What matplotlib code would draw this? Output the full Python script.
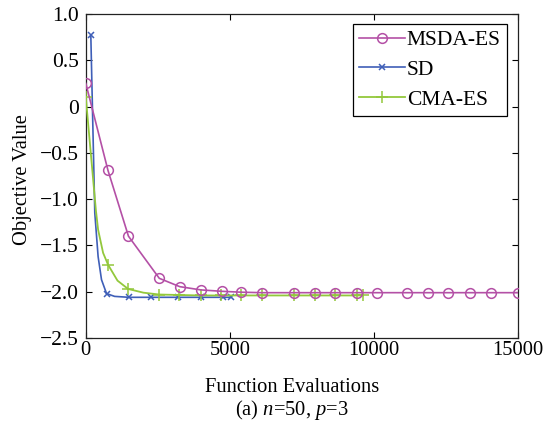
import matplotlib
matplotlib.use("Agg")
import matplotlib.pyplot as plt

plt.rcParams['font.family'] = ['Liberation Serif', 'DejaVu Serif']
plt.rcParams['mathtext.fontset'] = 'custom'
plt.rcParams['mathtext.it'] = 'Liberation Serif:italic'
plt.rcParams['mathtext.rm'] = 'Liberation Serif'

# values
msda_x = [0, 770, 1480, 2550, 3260, 3990, 4710, 5400, 6130, 7230, 7950,
          8650, 9400, 10090, 11150, 11860, 12580, 13330, 14050, 15000]
msda_y = [0.25, -0.69, -1.40, -1.855, -1.945, -1.98, -1.995, -2.005, -2.01,
          -2.01, -2.01, -2.01, -2.01, -2.01, -2.01, -2.01, -2.01, -2.01, -2.01, -2.01]

sd_x = [174, 312, 427, 545, 720, 1000, 1500, 2260, 3190, 3990, 4770, 5050]
sd_y = [0.77, -1.15, -1.62, -1.87, -2.02, -2.05, -2.06, -2.06, -2.06, -2.06, -2.06, -2.06]
sd_marks = [0, 4, 6, 7, 8, 9, 10, 11]

cma_x = [0, 350, 427, 600, 775, 1100, 1470, 2000, 2550, 3250, 4000, 4700,
         5400, 6130, 7230, 7950, 8650, 9400, 9620]
cma_y = [0.10, -1.12, -1.33, -1.58, -1.71, -1.88, -1.97, -2.01, -2.03, -2.035,
         -2.04, -2.04, -2.04, -2.04, -2.04, -2.04, -2.04, -2.04, -2.04]
cma_marks = [0, 4, 6, 8, 9, 10, 11, 12, 13, 14, 15, 16, 17, 18]

xticks = [0, 5000, 10000, 15000]
yticks = [-2.5, -2.0, -1.5, -1.0, -0.5, 0, 0.5, 1.0]
ytick_labels = ['\u22122.5', '\u22122.0', '\u22121.5', '\u22121.0', '\u22120.5', '0', '0.5', '1.0']

fs = 14.8

fig = plt.figure(figsize=(5.5, 4.21), dpi=100)
ax = fig.add_axes([0.156, 0.197, 0.786, 0.770])

ax.plot(sd_x, sd_y, color='#3F5FB8', lw=1.2, marker='x', ms=5, mew=1.1,
        markevery=sd_marks, label='SD', zorder=2)
ax.plot(cma_x, cma_y, color='#93C83C', lw=1.3, marker='+', ms=8, mew=1.1,
        markevery=cma_marks, label='CMA-ES', zorder=3)
ax.plot(msda_x, msda_y, color='#B450A6', lw=1.2, marker='o', ms=7, mew=1.1,
        fillstyle='none', label='MSDA-ES', zorder=4)

ax.set_xlim(0, 15000)
ax.set_ylim(-2.5, 1.0)
ax.set_xticks(xticks)
ax.set_xticklabels([str(t) for t in xticks])
ax.set_yticks(yticks)
ax.set_yticklabels(ytick_labels)
ax.tick_params(direction='in', top=True, right=True, length=4, width=0.8)
ax.tick_params(axis='x', labelsize=fs, pad=2)
ax.tick_params(axis='y', labelsize=15.5, pad=5)
for s in ax.spines.values():
    s.set_linewidth(0.9)
    s.set_color('#222222')

h, l = ax.get_legend_handles_labels()
order = [2, 0, 1]
leg = ax.legend([h[i] for i in order], [l[i] for i in order], loc='upper right',
                bbox_to_anchor=(0.975, 0.97), fontsize=15.5, fancybox=False,
                edgecolor='black', framealpha=1, handlelength=2.1,
                handletextpad=0.1, borderpad=0.3, labelspacing=0.45, borderaxespad=0)
leg.get_frame().set_linewidth(0.9)

fig.text(292 / 550, 1 - 388 / 421, 'Function Evaluations', ha='center', va='center', fontsize=fs)
fig.text(292 / 550, 1 - 410 / 421, '(a) $n$=50, $p$=3', ha='center', va='center', fontsize=fs)
fig.text(23 / 550, 1 - 180 / 421, 'Objective Value', ha='center', va='center',
         rotation=90, fontsize=fs)

fig.savefig('out.png', dpi=100)
